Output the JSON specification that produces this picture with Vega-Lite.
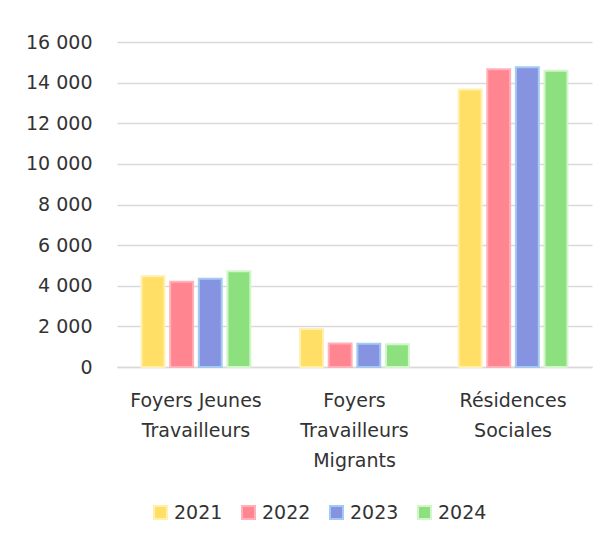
{
  "$schema": "https://vega.github.io/schema/vega-lite/v6.json",
  "width": 475,
  "height": 325,
  "autosize": "none",
  "padding": {"left": 117, "top": 42, "right": 17, "bottom": 174},
  "background": "white",
  "data": {
    "values": [
      {"type": "Foyers Jeunes Travailleurs", "year": "2021", "value": 4470},
      {"type": "Foyers Jeunes Travailleurs", "year": "2022", "value": 4200},
      {"type": "Foyers Jeunes Travailleurs", "year": "2023", "value": 4350},
      {"type": "Foyers Jeunes Travailleurs", "year": "2024", "value": 4710},
      {"type": "Foyers Travailleurs Migrants", "year": "2021", "value": 1870},
      {"type": "Foyers Travailleurs Migrants", "year": "2022", "value": 1160},
      {"type": "Foyers Travailleurs Migrants", "year": "2023", "value": 1150},
      {"type": "Foyers Travailleurs Migrants", "year": "2024", "value": 1120},
      {"type": "Résidences Sociales", "year": "2021", "value": 13665},
      {"type": "Résidences Sociales", "year": "2022", "value": 14660},
      {"type": "Résidences Sociales", "year": "2023", "value": 14760},
      {"type": "Résidences Sociales", "year": "2024", "value": 14580}
    ]
  },
  "mark": {"type": "bar", "strokeWidth": 2},
  "encoding": {
    "x": {
      "field": "type",
      "type": "nominal",
      "sort": null,
      "scale": {"paddingInner": 0.314, "paddingOuter": 0.155},
      "axis": {
        "title": null,
        "labelAngle": 0,
        "ticks": false,
        "domainColor": "#d9d9d9",
        "domainWidth": 1.5,
        "labelPadding": 24,
        "labelBaseline": "top",
        "labelLineHeight": 30,
        "labelExpr": "datum.value == 'Foyers Jeunes Travailleurs' ? ['Foyers Jeunes', 'Travailleurs'] : datum.value == 'Foyers Travailleurs Migrants' ? ['Foyers', 'Travailleurs', 'Migrants'] : ['Résidences', 'Sociales']"
      }
    },
    "xOffset": {
      "field": "year",
      "type": "nominal",
      "scale": {"paddingInner": 0.2, "paddingOuter": 0}
    },
    "y": {
      "field": "value",
      "type": "quantitative",
      "scale": {"domain": [0, 16000], "nice": false},
      "axis": {
        "title": null,
        "domain": false,
        "ticks": false,
        "values": [0, 2000, 4000, 6000, 8000, 10000, 12000, 14000, 16000],
        "labelPadding": 25,
        "gridColor": "#d9d9d9",
        "gridWidth": 1.5,
        "labelExpr": "replace(format(datum.value, ','), ',', ' ')"
      }
    },
    "fill": {
      "field": "year",
      "type": "nominal",
      "scale": {"domain": ["2021", "2022", "2023", "2024"], "range": ["#FFDF66", "#FF8590", "#8593E0", "#8DE07E"]},
      "legend": {
        "title": null,
        "orient": "none",
        "direction": "horizontal",
        "legendX": 34,
        "legendY": 461,
        "symbolType": "square",
        "symbolSize": 169,
        "symbolStrokeWidth": 2,
        "labelFontSize": 19,
        "labelOffset": 4,
        "columnPadding": 15
      }
    },
    "stroke": {
      "field": "year",
      "type": "nominal",
      "scale": {"domain": ["2021", "2022", "2023", "2024"], "range": ["#FFF0B0", "#FFB0B8", "#A3CBF2", "#D3F5CC"]},
      "legend": {
        "title": null,
        "orient": "none",
        "direction": "horizontal",
        "legendX": 34,
        "legendY": 461,
        "symbolType": "square",
        "symbolSize": 169,
        "symbolStrokeWidth": 2,
        "labelFontSize": 19,
        "labelOffset": 4,
        "columnPadding": 15
      }
    }
  },
  "config": {
    "font": "DejaVu Sans",
    "view": {"stroke": null},
    "axis": {"labelFont": "DejaVu Sans", "labelFontSize": 19, "labelColor": "#333333", "grid": true},
    "axisX": {"grid": false},
    "legend": {"labelFont": "DejaVu Sans", "labelColor": "#333333"}
  }
}
